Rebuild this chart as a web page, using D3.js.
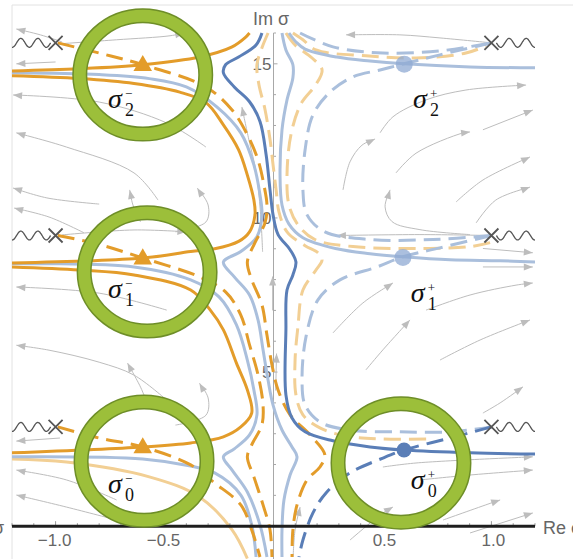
<!DOCTYPE html>
<html>
<head>
<meta charset="utf-8">
<script src="https://cdn.jsdelivr.net/npm/d3@7"></script>
<style>
  body { margin: 0; background: #fff; }
  svg { display: block; }
</style>
</head>
<body>
<main></main>
<script>
// ---- data (Re σ, Im σ) ----

// saddle points
const minusSaddles = [[-0.6, 14.97], [-0.6, 8.70], [-0.6, 2.57]];
const plusSaddles = [[0.6, 14.99], [0.594, 8.72], [0.599, 2.47]];
const plusRelevant = [false, false, true];

// branch points (crosses) with cuts running to the edge
const branchPoints = [[-1, 15.68], [-1, 9.43], [-1, 3.22], [1, 15.68], [1, 9.43], [1, 3.22]];

// green rings
const ringCenters = [[-0.6, 14.64], [-0.58, 8.25], [-0.594, 2.11], [0.585, 2.05]];
const ringRadius = [0.289, 1.92];

// saddle labels: position of the sigma, subscript, superscript
const labelPos = [[-0.76, 13.56], [-0.76, 7.40], [-0.76, 1.07], [0.64, 13.56], [0.63, 7.27], [0.63, 1.21]];
const labelSub = ["2", "1", "0", "2", "1", "0"];
const labelSup = ["\u2212", "\u2212", "\u2212", "+", "+", "+"];

const xTicks = [-1.0, -0.5, 0.5, 1.0];
const yTicks = [5, 10, 15];

// thimbles through sigma_k^- (solid orange)
const orangeA2 = [[-1.2,14.77],[-0.89,14.84],[-0.6,14.97],[-0.34,15.22],[-0.19,15.55],[-0.13,15.85],[-0.11,16.0]];
const orangeB2A1 = [[-1.2,14.61],[-0.89,14.52],[-0.64,14.36],[-0.43,14.08],[-0.31,13.74],[-0.23,13.02],[-0.16,12.21],[-0.12,11.39],[-0.09,10.58],[-0.085,10.10],[-0.11,9.55],[-0.16,9.24],[-0.27,9.0],[-0.38,8.91],[-0.6,8.70],[-1.2,8.54]];
const orangeB1A0 = [[-1.2,8.41],[-0.89,8.31],[-0.64,8.15],[-0.38,7.66],[-0.29,7.01],[-0.23,6.37],[-0.17,5.29],[-0.12,4.42],[-0.10,3.67],[-0.15,3.22],[-0.23,2.90],[-0.38,2.70],[-0.6,2.57],[-1.2,2.38]];
const lightOrangeB0 = [[-1.2,2.18],[-0.95,2.08],[-0.57,1.60],[-0.34,0.95],[-0.19,-0.12],[-0.12,-1.05]];

// dual thimbles through sigma_k^- (dashed orange)
const orangeD2 = [[-0.99,15.68],[-0.80,15.35],[-0.6,14.97],[-0.31,14.25],[-0.19,13.50],[-0.12,12.70],[-0.071,11.88],[-0.044,11.07],[-0.030,10.42],[-0.039,9.84],[-0.085,9.20],[-0.12,8.57],[-0.10,8.0],[-0.053,7.18],[-0.030,6.20],[-0.007,5.23],[0.021,4.42],[0.076,3.61],[0.168,2.96],[0.236,2.31],[0.213,1.92],[0.154,1.50],[0.108,0.69],[0.089,-0.12],[0.085,-1.0]];
const orangeD1 = [[-0.99,9.43],[-0.80,9.14],[-0.6,8.70],[-0.34,8.09],[-0.22,7.60],[-0.15,6.85],[-0.11,5.88],[-0.071,4.91],[-0.048,3.93],[-0.053,3.29],[-0.10,2.64],[-0.12,2.25],[-0.09,1.60],[-0.048,0.69],[-0.016,-0.12],[-0.007,-1.0]];
const orangeD0 = [[-0.99,3.22],[-0.80,2.86],[-0.6,2.57],[-0.38,1.99],[-0.27,1.40],[-0.15,0.69],[-0.10,-0.12],[-0.062,-1.0]];
const lightOrangeD2 = [[-0.025,16.0],[-0.053,15.52],[-0.076,14.97],[-0.067,14.33],[-0.039,13.52],[-0.016,12.55],[-0.002,11.72],[0.012,10.91],[0.025,10.20],[0.062,9.55],[0.145,9.10],[0.204,8.87],[0.223,8.64],[0.195,8.31],[0.135,7.66],[0.112,6.46],[0.099,5.39],[0.103,4.26],[0.135,3.61],[0.213,3.19],[0.328,2.93],[0.489,2.83],[0.718,2.83]];
const lightOrangeD3 = [[0.057,16.0],[0.099,15.61],[0.177,15.19],[0.223,14.80],[0.195,14.33],[0.126,13.70],[0.080,12.70],[0.062,11.39],[0.071,10.42],[0.112,9.78],[0.190,9.30],[0.365,9.07],[0.672,9.01],[0.902,9.07],[0.994,9.20]];
const lightOrangeTop = [[0.089,16.0],[0.135,15.78],[0.195,15.45],[0.424,15.26],[0.654,15.19],[0.883,15.35],[0.975,15.58]];

// light blue thimbles (solid)
const blueL2 = [[-1.2,14.71],[-0.8,14.65],[-0.57,14.52],[-0.40,14.25],[-0.26,13.60],[-0.15,12.76],[-0.09,11.72],[-0.062,10.75],[-0.053,10.10],[-0.076,9.39],[-0.15,8.91],[-0.23,8.57],[-0.18,8.09],[-0.11,7.50],[-0.071,6.69],[-0.048,5.72],[-0.025,4.74],[-0.002,3.93],[0.039,3.12],[0.085,2.57],[0.108,2.25],[0.076,1.66],[0.048,0.85],[0.039,-0.12],[0.039,-1.0]];
const blueL1 = [[-1.2,8.51],[-0.64,8.41],[-0.38,7.99],[-0.25,7.44],[-0.17,6.53],[-0.12,5.39],[-0.09,4.42],[-0.076,3.61],[-0.11,2.96],[-0.18,2.51],[-0.23,2.25],[-0.19,1.82],[-0.12,1.11],[-0.062,0.04],[-0.030,-1.0]];
const blueL0 = [[-1.2,2.25],[-0.6,2.18],[-0.38,1.95],[-0.27,1.73],[-0.15,1.01],[-0.10,0.04],[-0.08,-1.0]];
const blueT1 = [[0.039,16.0],[0.057,15.45],[0.089,14.97],[0.089,14.55],[0.062,13.83],[0.039,12.86],[0.030,11.39],[0.039,10.42],[0.071,9.80],[0.135,9.36],[0.291,9.0],[0.443,8.84],[0.594,8.74],[0.81,8.64],[1.04,8.61],[1.2,8.57]];
const blueT2 = [[0.071,16.0],[0.103,15.71],[0.145,15.48],[0.291,15.22],[0.443,15.09],[0.599,15.0],[0.902,14.90],[1.2,14.87]];

// light blue dual thimbles (dashed)
const blueDTop = [[0.122,16.0],[0.273,15.55],[0.502,15.35],[0.764,15.42],[1.0,15.68]];
const blueD2 = [[1.0,15.68],[0.764,15.29],[0.599,15.0],[0.489,14.80],[0.365,14.58],[0.259,14.08],[0.181,13.34],[0.145,12.21],[0.135,10.91],[0.154,10.10],[0.236,9.55],[0.443,9.30],[0.732,9.30],[1.0,9.43]];
const blueD1 = [[1.0,9.43],[0.764,9.03],[0.594,8.74],[0.475,8.41],[0.305,7.99],[0.204,7.34],[0.149,6.14],[0.131,4.74],[0.145,3.93],[0.213,3.38],[0.351,3.12],[0.580,3.06],[0.81,3.06],[1.0,3.22]];

// sigma_0^+ thimble and dual (dark blue)
const darkBlueT0 = [[-0.053,16.0],[-0.08,15.61],[-0.16,15.22],[-0.22,14.97],[-0.23,14.71],[-0.18,14.25],[-0.11,13.77],[-0.062,13.13],[-0.034,12.06],[-0.016,10.91],[-0.002,10.10],[0.021,9.46],[0.076,8.97],[0.103,8.57],[0.089,8.15],[0.062,7.66],[0.057,6.37],[0.057,4.26],[0.085,3.51],[0.145,3.06],[0.273,2.77],[0.443,2.57],[0.599,2.47],[0.902,2.38],[1.2,2.34]];
const darkBlueD0 = [[1.0,3.22],[0.81,2.86],[0.599,2.47],[0.502,2.21],[0.351,1.73],[0.241,1.08],[0.181,0.43],[0.135,-0.45],[0.117,-1.0]];

// gradient flow lines (gray, arrow at the end)
const flowLines = [
  [[-0.97,15.71],[-1.07,15.94],[-1.18,16.13]],
  [[-0.98,15.65],[-0.72,15.78],[-0.475,15.91],[-0.41,16.0]],
  [[-1.0,15.06],[-1.18,15.0]],
  [[-0.31,12.30],[-0.49,13.08],[-0.80,13.76],[-1.195,13.99]],
  [[-0.53,10.58],[-0.64,11.46],[-0.95,12.30],[-1.18,12.76]],
  [[-0.80,10.45],[-1.04,10.65],[-1.195,10.97]],
  [[-0.87,9.52],[-1.03,10.03],[-1.19,10.32]],
  [[-0.61,9.87],[-0.645,10.42],[-0.66,10.91]],
  [[-0.45,9.55],[-0.31,9.87],[-0.30,10.42],[-0.35,10.97]],
  [[-0.05,8.9],[-0.06,10.2],[-0.08,11.5],[-0.115,12.6],[-0.145,13.6]],
  [[-0.97,9.45],[-0.64,9.61],[-0.40,9.55]],
  [[-0.49,7.01],[-0.80,7.56],[-1.18,7.76]],
  [[-0.49,4.09],[-0.64,4.90],[-0.80,5.32],[-1.03,5.71],[-1.18,5.87]],
  [[-0.58,3.99],[-0.61,4.51],[-0.67,5.29]],
  [[-0.45,3.28],[-0.31,3.60],[-0.30,4.16],[-0.34,4.64]],
  [[-0.98,2.86],[-1.18,2.76]],
  [[-0.72,0.85],[-0.95,1.50],[-1.18,1.82]],
  [[-0.72,0.20],[-0.95,0.62],[-1.18,1.01]],
  [[1.0,15.68],[0.764,15.84],[0.58,15.94],[0.333,15.94]],
  [[0.319,10.91],[0.351,11.82],[0.406,12.36],[0.466,12.56]],
  [[0.489,12.76],[0.548,13.28],[0.70,13.83],[0.883,14.15],[1.159,14.31]],
  [[0.902,9.46],[0.672,9.62],[0.544,9.88],[0.512,10.36],[0.535,10.91]],
  [[0.562,11.46],[0.654,12.10],[0.87,12.76],[0.902,12.79]],
  [[0.961,12.86],[1.19,13.5]],
  [[0.838,10.52],[0.961,11.23],[1.177,11.98]],
  [[0.93,9.84],[1.02,10.58],[1.177,11.0]],
  [[1.0,9.43],[0.672,9.46],[0.291,9.43]],
  [[0.961,9.01],[1.19,8.87]],
  [[0.961,8.41],[1.19,8.41]],
  [[0.273,6.27],[0.41,7.24],[0.548,7.89]],
  [[0.424,5.07],[0.502,5.72],[0.626,6.69]],
  [[0.70,7.01],[0.902,7.50],[1.113,7.82],[1.19,7.89]],
  [[0.764,5.39],[0.948,6.04],[1.177,6.69]],
  [[0.961,3.67],[1.04,4.0],[1.145,4.52]],
  [[0.502,1.92],[0.654,2.05],[1.19,2.25]],
  [[0.672,1.50],[0.902,1.66],[1.19,1.82]],
  [[0.351,-0.45],[0.502,0.43],[0.548,0.62]],
  [[0.778,0.20],[0.994,0.74],[1.04,0.85]],
  [[0.902,-0.22],[1.19,0.43]],
  [[0.09,-1.0],[0.099,-0.12],[0.122,0.62]],
  [[-0.004,7.0],[-0.004,8.1]],
  [[0.01,4.4],[0.014,5.6]]
];

// ---- drawing ----
const width = 573, height = 559;
const orange = "#E39C2A", lightOrange = "#F2CF94";
const darkBlue = "#5A7EB7", lightBlue = "#AABFDC";
const gray = "#BDBDBD";

const x = d3.scaleLinear().domain([-1.2, 1.2]).range([12, 535]);
const y = d3.scaleLinear().domain([-1, 16]).range([557, 33]);

const svg = d3.select("main").append("svg")
  .attr("width", width).attr("height", height)
  .style("font-family", "'Liberation Sans', Arial, sans-serif");

svg.append("defs").append("clipPath").attr("id", "plot")
  .append("rect").attr("x", 12).attr("y", 24).attr("width", 523).attr("height", 540);

// light outer frame
svg.append("path").attr("d", "M12,559V5H573").attr("fill", "none").attr("stroke", "#e2e2e2");

// vertical axis
const yAxis = svg.append("g");
yAxis.append("line").attr("x1", x(0)).attr("x2", x(0)).attr("y1", 559).attr("y2", 33)
  .attr("stroke", "#a8a8a8").attr("stroke-width", 1);
yAxis.selectAll("line.tick").data(d3.range(0, 17)).join("line").attr("class", "tick")
  .attr("x1", x(0)).attr("x2", d => x(0) + (d % 5 === 0 ? 4 : 2.5))
  .attr("y1", d => y(d)).attr("y2", d => y(d))
  .attr("stroke", "#a8a8a8");
yAxis.selectAll("text").data(yTicks).join("text")
  .attr("x", x(0) - 2).attr("y", d => y(d) + 6)
  .attr("text-anchor", "end").attr("font-size", 17).attr("fill", "#666")
  .text(d => d);

const plot = svg.append("g").attr("clip-path", "url(#plot)");
const line = d3.line().x(d => x(d[0])).y(d => y(d[1])).curve(d3.curveCatmullRom.alpha(0.5));

// flow lines with arrowheads
const flows = plot.append("g");
flowLines.forEach(pts => {
  flows.append("path").attr("d", line(pts)).attr("fill", "none")
    .attr("stroke", gray).attr("stroke-width", 1);
  const a = pts[pts.length - 2], b = pts[pts.length - 1];
  const ang = Math.atan2(y(b[1]) - y(a[1]), x(b[0]) - x(a[0])) * 180 / Math.PI;
  flows.append("path").attr("d", "M0,0L-9,-3.5L-9,3.5Z").attr("fill", gray)
    .attr("transform", `translate(${x(b[0])},${y(b[1])}) rotate(${ang})`);
});

function drawCurve(pts, color, dashed) {
  plot.append("path").attr("d", line(pts)).attr("fill", "none")
    .attr("stroke", color).attr("stroke-width", 3)
    .attr("stroke-dasharray", dashed ? "17,8" : null)
    .attr("stroke-linecap", "butt");
}

// faint (irrelevant) curves first
[lightOrangeD2, lightOrangeD3, lightOrangeTop].forEach(c => drawCurve(c, lightOrange, true));
drawCurve(lightOrangeB0, lightOrange, false);
[blueDTop, blueD2, blueD1].forEach(c => drawCurve(c, lightBlue, true));
[blueL2, blueL1, blueL0, blueT1, blueT2].forEach(c => drawCurve(c, lightBlue, false));
// relevant curves
[orangeD2, orangeD1, orangeD0].forEach(c => drawCurve(c, orange, true));
[orangeA2, orangeB2A1, orangeB1A0].forEach(c => drawCurve(c, orange, false));
drawCurve(darkBlueD0, darkBlue, true);
drawCurve(darkBlueT0, darkBlue, false);

// horizontal axis
const xAxis = svg.append("g");
xAxis.selectAll("line.tick").data(d3.range(-12, 13)).join("line").attr("class", "tick")
  .attr("x1", d => x(d / 10)).attr("x2", d => x(d / 10))
  .attr("y1", y(0)).attr("y2", d => y(0) - (d % 5 === 0 ? 5 : 3))
  .attr("stroke", "#999");
xAxis.append("line").attr("x1", 12).attr("x2", 535).attr("y1", y(0)).attr("y2", y(0))
  .attr("stroke", "#1e1e1e").attr("stroke-width", 3);
xAxis.selectAll("text").data(xTicks).join("text")
  .attr("x", d => x(d) + (d < 0 ? -1 : 2)).attr("y", y(0) + 20)
  .attr("text-anchor", "middle").attr("font-size", 17).attr("fill", "#666")
  .text(d => d3.format(".1f")(d).replace("-", "\u2212"));

svg.append("text").attr("x", 253).attr("y", 25).attr("font-size", 18).attr("fill", "#666").text("Im \u03c3");
svg.append("text").attr("x", 543).attr("y", 534).attr("font-size", 18).attr("fill", "#666").text("Re \u03c3");
svg.append("text").attr("x", 4).attr("y", 534).attr("text-anchor", "end").attr("font-size", 18).attr("fill", "#666").text("\u03c3");

// branch cuts (wavy) and branch points
const cuts = plot.append("g");
branchPoints.forEach(([re, im]) => {
  const bx = x(re), by = y(im);
  const dir = re < 0 ? -1 : 1;
  const start = bx + dir * 5, end = dir < 0 ? 12 : 535;
  const n = 60, pts = [];
  for (let i = 0; i <= n; i++) {
    const px = start + (end - start) * i / n;
    pts.push([px, by + 4.5 * Math.sin(2 * Math.PI * Math.abs(px - start) / 17)]);
  }
  cuts.append("path").attr("d", d3.line().curve(d3.curveBasis)(pts))
    .attr("fill", "none").attr("stroke", "#555").attr("stroke-width", 1.3);
  cuts.append("path").attr("d", `M${bx - 7},${by - 7}L${bx + 7},${by + 7}M${bx - 7},${by + 7}L${bx + 7},${by - 7}`)
    .attr("stroke", "#555").attr("stroke-width", 1.8);
});

// saddle markers
const marks = svg.append("g");
marks.selectAll("path").data(minusSaddles).join("path")
  .attr("d", d3.symbol(d3.symbolTriangle, 150))
  .attr("transform", d => `translate(${x(d[0])},${y(d[1]) + 1})`)
  .attr("fill", orange);
marks.selectAll("circle").data(plusSaddles).join("circle")
  .attr("cx", d => x(d[0])).attr("cy", d => y(d[1]))
  .attr("r", (d, i) => plusRelevant[i] ? 7.5 : 8.5)
  .attr("fill", (d, i) => plusRelevant[i] ? darkBlue : "#8FA9D3")
  .attr("fill-opacity", (d, i) => plusRelevant[i] ? 1 : 0.75);

// green rings
const rx = x(ringRadius[0]) - x(0), ry = y(0) - y(ringRadius[1]);
const rings = svg.append("g");
rings.selectAll("ellipse.edge").data(ringCenters).join("ellipse").attr("class", "edge")
  .attr("cx", d => x(d[0])).attr("cy", d => y(d[1])).attr("rx", rx).attr("ry", ry)
  .attr("fill", "none").attr("stroke", "#6E8E28").attr("stroke-width", 15);
rings.selectAll("ellipse.band").data(ringCenters).join("ellipse").attr("class", "band")
  .attr("cx", d => x(d[0])).attr("cy", d => y(d[1])).attr("rx", rx).attr("ry", ry)
  .attr("fill", "none").attr("stroke", "#9CBF3A").attr("stroke-width", 12);

// labels: sigma with stacked sub/superscript
const labels = svg.append("g").attr("fill", "#111").style("font-family", "'Liberation Serif', 'Times New Roman', serif");
labelPos.forEach((p, i) => {
  const px = x(p[0]), py = y(p[1]);
  labels.append("text").attr("x", px).attr("y", py).attr("font-size", 28)
    .attr("font-style", "italic").text("\u03c3");
  labels.append("text").attr("x", px + 17).attr("y", py + 8).attr("font-size", 18).text(labelSub[i]);
  labels.append("text").attr("x", px + 17).attr("y", py - 10).attr("font-size", 13).text(labelSup[i]);
});
</script>
</body>
</html>
